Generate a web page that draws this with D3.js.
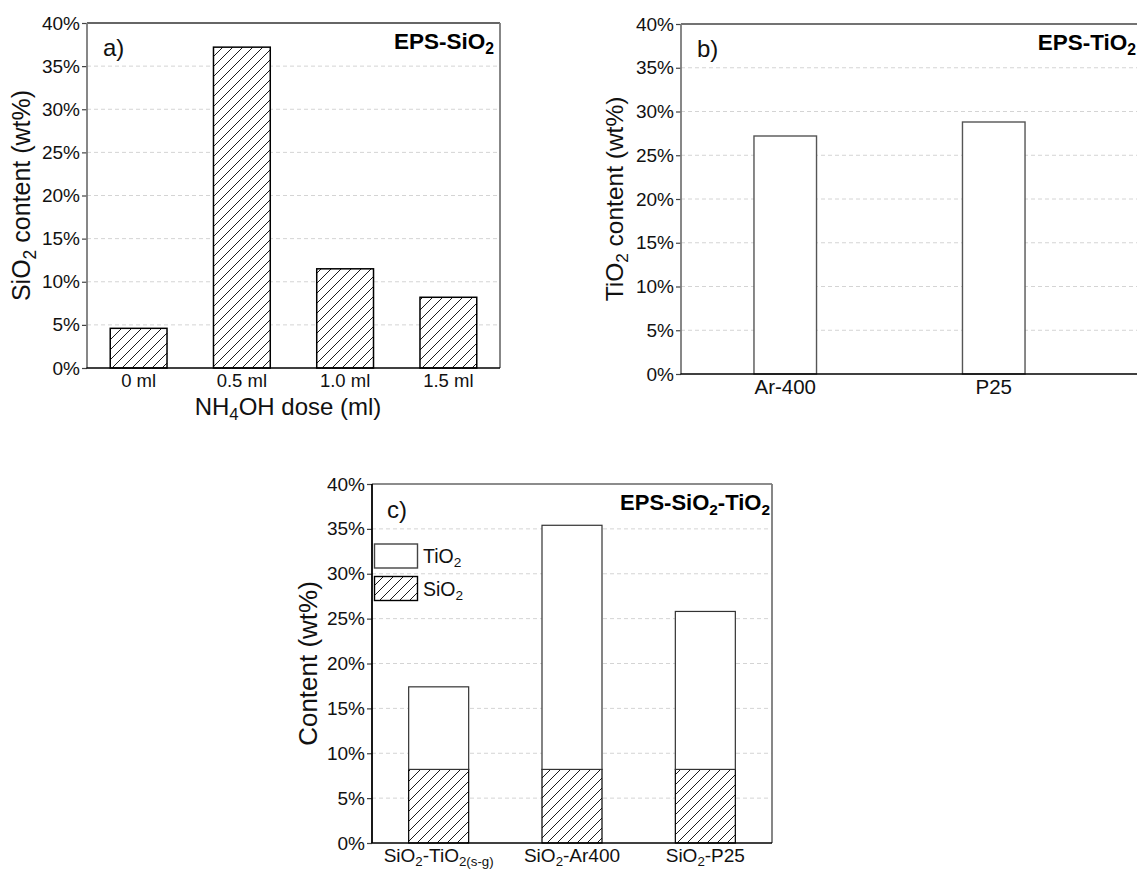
<!DOCTYPE html>
<html>
<head>
<meta charset="utf-8">
<script src="https://cdn.jsdelivr.net/npm/d3@7"></script>
<style>
  html, body { margin: 0; padding: 0; background: #fff; }
  svg { display: block; font-family: "Liberation Sans", Arial, sans-serif; }
</style>
</head>
<body>
<svg id="chart" width="1137" height="877"></svg>
<script>
// ---------------- DATA ----------------
const yTicks = [0, 5, 10, 15, 20, 25, 30, 35, 40];

const catsA = ["0 ml", "0.5 ml", "1.0 ml", "1.5 ml"];
const sio2A = [4.6, 37.2, 11.5, 8.2];

const catsB = ["Ar-400", "P25"];
const tio2B = [27.2, 28.8];

const catsC = ["SiO2-TiO2(s-g)", "SiO2-Ar400", "SiO2-P25"];
const sio2C = [8.2, 8.2, 8.2];
const tio2C = [9.2, 27.2, 17.6];

// rich-text labels (text, isSubscript)
const labelsC = [
  [["SiO", 0], ["2", 1], ["-TiO", 0], ["2(s-g)", 1]],
  [["SiO", 0], ["2", 1], ["-Ar400", 0]],
  [["SiO", 0], ["2", 1], ["-P25", 0]]
];
const legendC = [
  { key: "tio2", label: [["TiO", 0], ["2", 1]] },
  { key: "sio2", label: [["SiO", 0], ["2", 1]] }
];

// ---------------- HELPERS ----------------
const svg = d3.select("#chart");
const defs = svg.append("defs");
const pat = defs.append("pattern")
  .attr("id", "hatch").attr("patternUnits", "userSpaceOnUse")
  .attr("width", 10).attr("height", 10);
pat.append("rect").attr("width", 10).attr("height", 10).attr("fill", "#fff");
pat.append("path").attr("d", "M-2,2 L2,-2 M0,10 L10,0 M8,12 L12,8")
  .attr("stroke", "#000").attr("stroke-width", 0.9).attr("fill", "none");

function rich(textSel, segs, size) {
  const shift = size * 0.22;
  let down = false;
  segs.forEach(([t, sub]) => {
    const ts = textSel.append("tspan").text(t);
    if (sub) {
      ts.attr("font-size", size * 0.7);
      if (!down) { ts.attr("dy", shift); down = true; }
    } else {
      if (down) { ts.attr("dy", -shift); down = false; }
    }
  });
  return textSel;
}

function panel(cfg) {
  const g = svg.append("g");
  const y = d3.scaleLinear().domain([0, 40]).range([cfg.bottom, cfg.top]);
  const x = d3.scaleBand().domain(cfg.cats).range([cfg.left, cfg.bandRight])
    .paddingInner(cfg.pad).paddingOuter(cfg.pad / 2);

  // grid
  g.append("g").selectAll("line").data(yTicks.filter(t => t > 0 && t < 40)).join("line")
    .attr("x1", cfg.left).attr("x2", cfg.right)
    .attr("y1", d => y(d)).attr("y2", d => y(d))
    .attr("stroke", "#d4d4d4").attr("stroke-width", 1).attr("stroke-dasharray", "4,3");

  // y axis
  const ya = g.append("g").attr("transform", `translate(${cfg.left},0)`)
    .call(d3.axisLeft(y).tickValues(yTicks).tickFormat(d => d + "%").tickSize(5).tickPadding(2).tickSizeOuter(0));
  ya.select(".domain").remove();
  ya.selectAll(".tick line").attr("stroke", "#444").attr("stroke-width", 1.2);
  ya.selectAll(".tick text").attr("font-size", 19).attr("fill", "#111")
    .attr("font-family", "Liberation Sans, Arial, sans-serif");

  return { g, x, y };
}

function frame(g, cfg, colors) {
  g.append("line").attr("x1", cfg.left).attr("x2", cfg.right).attr("y1", cfg.top).attr("y2", cfg.top)
    .attr("stroke", colors.top).attr("stroke-width", 1.6);
  g.append("line").attr("x1", cfg.right).attr("x2", cfg.right).attr("y1", cfg.top).attr("y2", cfg.bottom)
    .attr("stroke", colors.right).attr("stroke-width", 1.8);
  g.append("line").attr("x1", cfg.left).attr("x2", cfg.left).attr("y1", cfg.top).attr("y2", cfg.bottom)
    .attr("stroke", colors.left).attr("stroke-width", 1.8);
  g.append("line").attr("x1", cfg.left - 0.5).attr("x2", cfg.right).attr("y1", cfg.bottom).attr("y2", cfg.bottom)
    .attr("stroke", "#000").attr("stroke-width", 1.6);
}

function xLabels(g, x, cats, baseline, size, segsArr) {
  cats.forEach((c, i) => {
    const t = g.append("text").attr("x", x(c) + x.bandwidth() / 2).attr("y", baseline)
      .attr("text-anchor", "middle").attr("font-size", size).attr("fill", "#111");
    if (segsArr) rich(t, segsArr[i], size); else t.text(c);
  });
}

function yTitle(g, cx, cy, segs, size) {
  const t = g.append("text").attr("transform", `translate(${cx},${cy}) rotate(-90)`)
    .attr("text-anchor", "middle").attr("font-size", size).attr("fill", "#111");
  rich(t, segs, size);
}

// ---------------- PANEL A ----------------
const cfgA = { left: 87, right: 500, bandRight: 500, top: 23, bottom: 368, cats: catsA, pad: 0.45 };
const A = panel(cfgA);
A.g.append("g").selectAll("rect").data(catsA).join("rect")
  .attr("x", d => A.x(d)).attr("width", A.x.bandwidth())
  .attr("y", (d, i) => A.y(sio2A[i])).attr("height", (d, i) => A.y(0) - A.y(sio2A[i]))
  .attr("fill", "url(#hatch)").attr("stroke", "#000").attr("stroke-width", 1.5);
frame(A.g, cfgA, { top: "#333", right: "#7a7a7a", left: "#7a7a7a" });
xLabels(A.g, A.x, catsA, 387, 18.5);
yTitle(A.g, 30, (cfgA.top + cfgA.bottom) / 2, [["SiO", 0], ["2", 1], [" content (wt%)", 0]], 25);
rich(A.g.append("text").attr("x", 288).attr("y", 415).attr("text-anchor", "middle")
  .attr("font-size", 24).attr("fill", "#111"), [["NH", 0], ["4", 1], ["OH dose (ml)", 0]], 24);
A.g.append("text").attr("x", 103).attr("y", 56).attr("font-size", 24).attr("fill", "#111").text("a)");
rich(A.g.append("text").attr("x", 494).attr("y", 49).attr("text-anchor", "end")
  .attr("font-size", 22.5).attr("font-weight", "bold").attr("fill", "#000"), [["EPS-SiO", 0], ["2", 1]], 22.5);

// ---------------- PANEL B ----------------
const cfgB = { left: 681, right: 1150, bandRight: 1098, top: 24, bottom: 374, cats: catsB, pad: 0.7 };
const B = panel(cfgB);
B.g.append("g").selectAll("rect").data(catsB).join("rect")
  .attr("x", d => B.x(d)).attr("width", B.x.bandwidth())
  .attr("y", (d, i) => B.y(tio2B[i])).attr("height", (d, i) => B.y(0) - B.y(tio2B[i]))
  .attr("fill", "#fff").attr("stroke", "#555").attr("stroke-width", 1.4);
frame(B.g, cfgB, { top: "#444", right: "#7a7a7a", left: "#7a7a7a" });
xLabels(B.g, B.x, catsB, 394, 20.5);
yTitle(B.g, 623, (cfgB.top + cfgB.bottom) / 2, [["TiO", 0], ["2", 1], [" content (wt%)", 0]], 24.5);
B.g.append("text").attr("x", 697).attr("y", 57).attr("font-size", 24).attr("fill", "#111").text("b)");
rich(B.g.append("text").attr("x", 1136).attr("y", 50).attr("text-anchor", "end")
  .attr("font-size", 22.5).attr("font-weight", "bold").attr("fill", "#000"), [["EPS-TiO", 0], ["2", 1]], 22.5);

// ---------------- PANEL C ----------------
const cfgC = { left: 372, right: 772, bandRight: 772, top: 484, bottom: 843, cats: catsC, pad: 0.55 };
const C = panel(cfgC);
const stackData = catsC.map((c, i) => ({ cat: c, sio2: sio2C[i], tio2: tio2C[i] }));
const series = d3.stack().keys(["sio2", "tio2"])(stackData);
C.g.append("g").selectAll("g").data(series).join("g")
  .attr("fill", s => s.key === "sio2" ? "url(#hatch)" : "#fff")
  .attr("stroke", s => s.key === "sio2" ? "#000" : "#333")
  .attr("stroke-width", 1.2)
  .selectAll("rect").data(s => s).join("rect")
  .attr("x", d => C.x(d.data.cat)).attr("width", C.x.bandwidth())
  .attr("y", d => C.y(d[1])).attr("height", d => C.y(d[0]) - C.y(d[1]));
frame(C.g, cfgC, { top: "#666", right: "#7a7a7a", left: "#000" });
xLabels(C.g, C.x, catsC, 862, 19, labelsC);
yTitle(C.g, 317, (cfgC.top + cfgC.bottom) / 2, [["Content (wt%)", 0]], 26);
C.g.append("text").attr("x", 387).attr("y", 518).attr("font-size", 24).attr("fill", "#111").text("c)");
rich(C.g.append("text").attr("x", 770).attr("y", 510).attr("text-anchor", "end")
  .attr("font-size", 22).attr("font-weight", "bold").attr("fill", "#000"),
  [["EPS-SiO", 0], ["2", 1], ["-TiO", 0], ["2", 1]], 22);

// legend
const lg = C.g.append("g");
legendC.forEach((L, i) => {
  const yy = 544 + i * 32.5;
  lg.append("rect").attr("x", 374.5).attr("y", yy).attr("width", 43).attr("height", 24)
    .attr("fill", L.key === "sio2" ? "url(#hatch)" : "#fff")
    .attr("stroke", L.key === "sio2" ? "#000" : "#444").attr("stroke-width", 1.4);
  rich(lg.append("text").attr("x", 423).attr("y", yy + 19).attr("font-size", 19.5).attr("fill", "#111"), L.label, 19.5);
});
</script>
</body>
</html>
